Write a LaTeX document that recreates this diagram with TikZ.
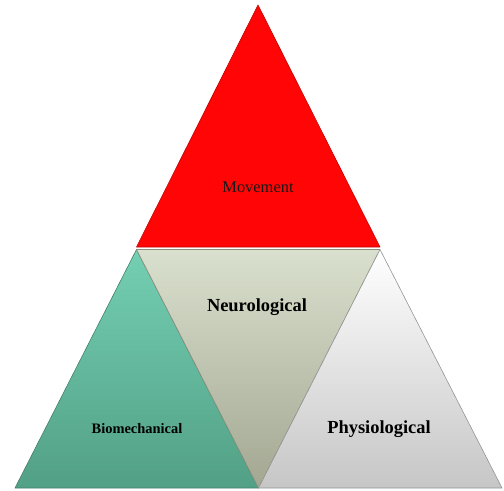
\documentclass[tikz,border=0pt]{standalone}
\usepackage{fontspec}
\setmainfont{Liberation Serif}
\usepackage{tikz}
\usetikzlibrary{positioning}

\definecolor{movered}{HTML}{FF0505}
\definecolor{bioTop}{HTML}{74CFB3}
\definecolor{bioBot}{HTML}{52A085}
\definecolor{neuTop}{HTML}{D9E0CD}
\definecolor{neuBot}{HTML}{A3A792}
\definecolor{phyBot}{HTML}{C6C6C6}

\begin{document}
\begin{tikzpicture}[
x=1bp,y=-1bp,
font=\normalfont,
piece/.style={line width=0.6pt,line join=round},
label/.style={font=\bfseries\fontsize{18.5}{20}\selectfont,text=black},
scale=1]
    % Keep the page size
    \useasboundingbox (0,0) rectangle (504,491);

    \draw
  	(258,5) coordinate (top)
  	(15,488) coordinate (bl)
  	(502,488) coordinate (br)
  	(136.5,247) coordinate (ml)
  	(380,247) coordinate (mr)
  	(136.5,249.5) coordinate (ml2)
  	(380,249.5) coordinate (mr2)
  	(258.5,488) coordinate (mb);

    % Draw the four triangles
  	\path[piece,fill=movered,draw=movered!75!black] (top) -- (mr) -- (ml) -- cycle;
  	\path[piece,top color=bioTop,bottom color=bioBot,draw=bioBot!80!black] (ml2) -- (mb) -- (bl) -- cycle;
  	\path[piece,top color=neuTop,bottom color=neuBot,draw=neuBot!85!black] (ml2) -- (mr2) -- (mb) -- cycle;
  	\path[piece,top color=white,bottom color=phyBot,draw=phyBot!75!black] (mr2) -- (br) -- (mb) -- cycle;

    % Labels
  	\node[font=\fontsize{16.5}{18}\selectfont,text=black!90] (move) at (258,187) {Movement};
  	\node[label] (neuro) at (257,307) {Neurological};
  	\node[label,font=\bfseries\fontsize{14.5}{16}\selectfont] (bio) at (137,429) {Biomechanical};
  	\node[label] (physio) at (379,429) {Physiological};
\end{tikzpicture}
\end{document}
